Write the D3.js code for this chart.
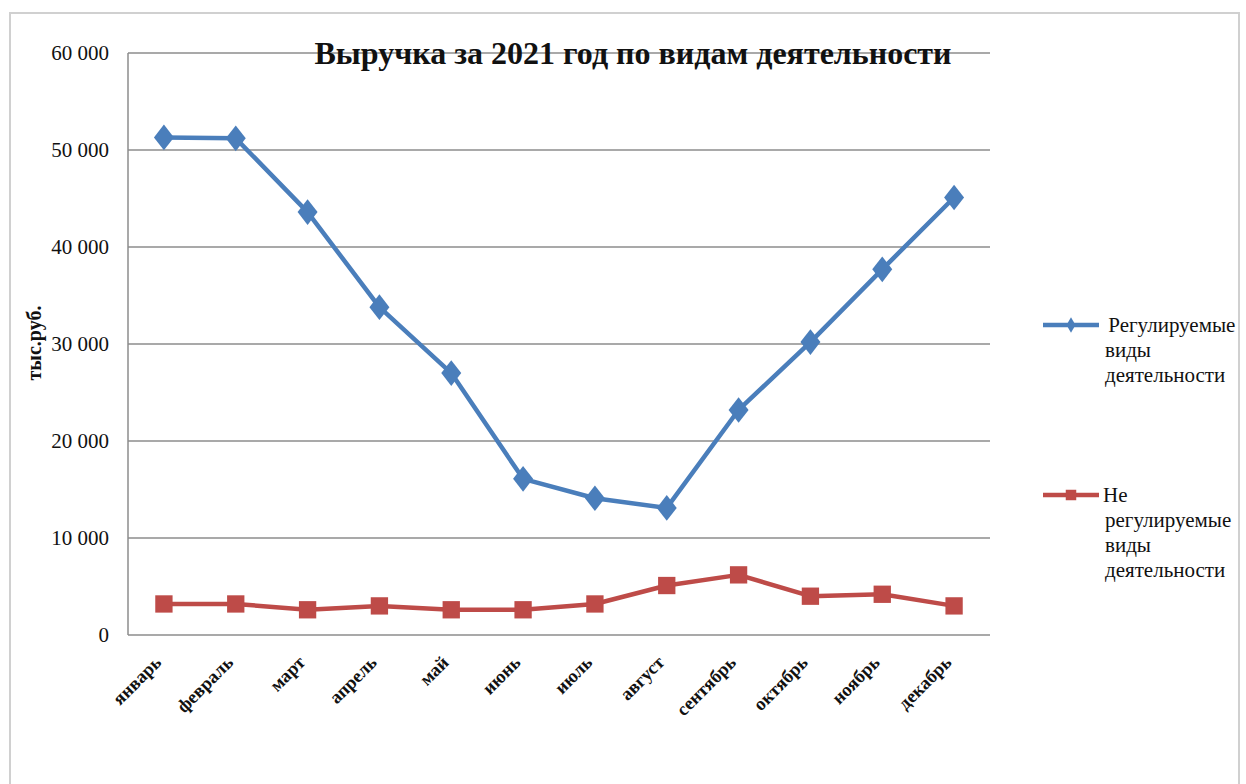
<!DOCTYPE html>
<html>
<head>
<meta charset="utf-8">
<script src="https://cdn.jsdelivr.net/npm/d3@7"></script>
<style>
  body { margin: 0; background: #fff; }
</style>
</head>
<body>
<div class="canvas"></div>
<script>
// data
const months = ['январь', 'февраль', 'март', 'апрель', 'май', 'июнь',
    'июль', 'август', 'сентябрь', 'октябрь', 'ноябрь', 'декабрь'];
const regulated = [51300, 51200, 43600, 33800, 27000, 16100, 14100, 13100, 23200, 30200, 37700, 45100];
const nonRegulated = [3200, 3200, 2600, 3000, 2600, 2600, 3200, 5100, 6200, 4000, 4200, 3000];
const yTicks = [0, 10000, 20000, 30000, 40000, 50000, 60000];

const serif = '"Liberation Serif", "Times New Roman", serif';

const svg = d3.select('.canvas')
    .append('svg')
    .attr('width', 1246)
    .attr('height', 784)
    .style('font-family', serif);

// outer chart frame
svg.append('rect')
    .attr('x', 10).attr('y', 13)
    .attr('width', 1229).attr('height', 800)
    .attr('fill', 'none')
    .attr('stroke', '#d0d0d0')
    .attr('stroke-width', 2);

const margin = { top: 53, left: 128, right: 256, bottom: 149 };
const graphWidth = 1246 - margin.left - margin.right;
const graphHeight = 784 - margin.top - margin.bottom;

const graph = svg.append('g')
    .attr('transform', `translate(${margin.left},${margin.top})`);

// scales
const x = d3.scaleBand()
    .domain(months)
    .range([0, graphWidth]);

const y = d3.scaleLinear()
    .domain([0, 60000])
    .range([graphHeight, 0]);

const fmt = d => d3.format(',')(d).replace(/,/g, ' ');

// gridlines
graph.append('g')
    .selectAll('line')
    .data(yTicks)
    .enter().append('line')
    .attr('x1', 0).attr('x2', graphWidth)
    .attr('y1', d => y(d)).attr('y2', d => y(d))
    .attr('stroke', '#8c8c8c')
    .attr('stroke-width', 1.5);

// left axis line
graph.append('line')
    .attr('x1', 0).attr('x2', 0)
    .attr('y1', 0).attr('y2', graphHeight)
    .attr('stroke', '#8c8c8c')
    .attr('stroke-width', 1.5);

// y axis
const yAxis = d3.axisLeft(y)
    .tickValues(yTicks)
    .tickSize(0)
    .tickPadding(19)
    .tickFormat(fmt);

const yAxisGroup = graph.append('g').call(yAxis)
    .attr('font-family', null);
yAxisGroup.select('.domain').remove();
yAxisGroup.selectAll('text')
    .style('font-family', serif)
    .attr('font-size', 21)
    .attr('fill', '#111');

// x axis
const xAxis = d3.axisBottom(x).tickSize(0);
const xAxisGroup = graph.append('g')
    .attr('transform', `translate(0, ${graphHeight})`)
    .call(xAxis)
    .attr('font-family', null);
xAxisGroup.select('.domain').remove();
xAxisGroup.selectAll('text')
    .style('font-family', serif)
    .attr('font-size', 18.5)
    .attr('font-weight', 'bold')
    .attr('fill', '#111')
    .attr('text-anchor', 'end')
    .attr('y', 0)
    .attr('dy', '0.35em')
    .attr('transform', 'translate(-6,24) rotate(-45)');

// lines
const line = d3.line()
    .x((d, i) => x(months[i]) + x.bandwidth() / 2)
    .y(d => y(d));

const series = [
    { name: 'reg', values: regulated, color: '#4a7ebb', symbol: d3.symbolDiamond, size: 190 },
    { name: 'nonreg', values: nonRegulated, color: '#be4b48', symbol: d3.symbolSquare, size: 300 }
];

series.forEach(s => {
    graph.append('path')
        .datum(s.values)
        .attr('d', line)
        .attr('fill', 'none')
        .attr('stroke', s.color)
        .attr('stroke-width', 4.5)
        .attr('stroke-linejoin', 'round');

    graph.selectAll('.pt-' + s.name)
        .data(s.values)
        .enter().append('path')
        .attr('class', 'pt-' + s.name)
        .attr('d', d3.symbol().type(s.symbol).size(s.size))
        .attr('transform', (d, i) => `translate(${x(months[i]) + x.bandwidth() / 2},${y(d)})` +
            (s.symbol === d3.symbolDiamond ? ' scale(1.35,1)' : ''))
        .attr('fill', s.color);
});

// title
svg.append('text')
    .attr('x', 633).attr('y', 64)
    .attr('text-anchor', 'middle')
    .attr('font-size', 32)
    .attr('font-weight', 'bold')
    .attr('fill', '#111')
    .text('Выручка за 2021 год по видам деятельности');

// y axis label
svg.append('text')
    .attr('transform', 'translate(41, 343) rotate(-90)')
    .attr('text-anchor', 'middle')
    .attr('font-size', 20)
    .attr('font-weight', 'bold')
    .attr('fill', '#111')
    .text('тыс.руб.');

// legend
const legendItems = [
    { lines: [' Регулируемые', 'виды', 'деятельности'], color: '#4a7ebb', symbol: d3.symbolDiamond, size: 70, y: 325 },
    { lines: ['Не', 'регулируемые', 'виды', 'деятельности'], color: '#be4b48', symbol: d3.symbolSquare, size: 110, y: 495 }
];

legendItems.forEach(item => {
    const g = svg.append('g').attr('transform', `translate(1043, ${item.y})`);
    g.append('line')
        .attr('x1', 0).attr('x2', 56)
        .attr('stroke', item.color)
        .attr('stroke-width', 4.5);
    g.append('path')
        .attr('d', d3.symbol().type(item.symbol).size(item.size))
        .attr('transform', 'translate(28,0)')
        .attr('fill', item.color);
    const t = g.append('text')
        .attr('x', 60).attr('y', 7)
        .style('font-family', serif)
        .attr('font-size', 21)
        .attr('fill', '#111')
        .attr('xml:space', 'preserve');
    item.lines.forEach((l, i) => {
        t.append('tspan')
            .attr('x', i === 0 ? 60 : 62)
            .attr('dy', i === 0 ? 0 : 25)
            .text(l);
    });
});
</script>
</body>
</html>
